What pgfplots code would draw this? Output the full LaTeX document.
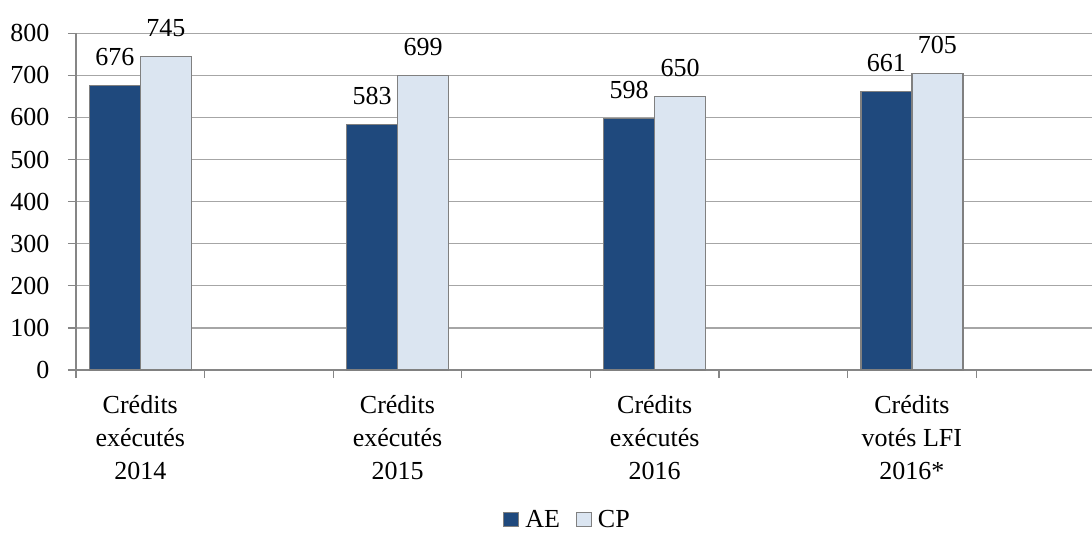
\documentclass[border=0pt]{standalone}
\usepackage{fontspec}
\setmainfont{Liberation Serif}
\usepackage{pgfplots}
\pgfplotsset{compat=1.18}
\definecolor{ae}{HTML}{1F497D}
\definecolor{cp}{HTML}{DBE5F1}
\definecolor{bord}{HTML}{808080}
\definecolor{gridc}{HTML}{A6A6A6}
\definecolor{axc}{HTML}{868686}
\begin{document}
\begin{tikzpicture}
\useasboundingbox (0,0) rectangle (1092pt,536pt);
\begin{axis}[
  at={(76pt,166pt)}, anchor=south west,
  scale only axis, width=1016pt, height=336.7pt,
  xmin=0, xmax=7.9, ymin=0, ymax=800,
  clip=false,
  axis x line=bottom, axis y line=left,
  axis line style={draw=axc, line width=1.2pt, -},
  tick align=outside, major tick length=8pt,
  tick style={draw=axc, line width=1.2pt},
  xtick={0,1,...,7}, xticklabels={},
  extra x ticks={0.5,2.5,4.5,6.5},
  extra x tick labels={{Crédits\\exécutés\\2014},{Crédits\\exécutés\\2015},{Crédits\\exécutés\\2016},{Crédits\\votés LFI\\2016*}},
  extra x tick style={major tick length=0pt},
  xticklabel style={align=center, font=\fontsize{26}{33}\selectfont, anchor=north, yshift=-22pt},
  ytick={0,100,...,800},
  yticklabel style={font=\fontsize{26}{33}\selectfont, anchor=east, xshift=-15pt},
  /pgf/number format/assume math mode=true,
  ymajorgrids, grid style={draw=gridc, line width=1.2pt},
  legend columns=2,
  legend style={draw=none, fill=none, font=\fontsize{26}{33}\selectfont,
    at={(0.4838,-0.4455)}, anchor=center,
    /tikz/every odd column/.append style={column sep=4pt},
    /tikz/every even column/.append style={column sep=14pt}},
]
\addplot[ybar, bar width=51pt, bar shift=-25.5pt, fill=ae, draw=bord, line width=1.2pt,
  nodes near coords,
  every node near coord/.append style={font=\fontsize{26}{33}\selectfont, anchor=south, inner sep=0pt, yshift=19pt, xshift=-25.5pt, text=black},
  legend image code/.code={\draw[fill=ae, draw=bord, line width=1pt] (0pt,-7pt) rectangle (15pt,7pt);}]
  coordinates {(0.5,676) (2.5,583) (4.5,598) (6.5,661)};
\addlegendentry{AE}
\addplot[ybar, bar width=51pt, bar shift=25.5pt, fill=cp, draw=bord, line width=1.2pt,
  nodes near coords,
  every node near coord/.append style={font=\fontsize{26}{33}\selectfont, anchor=south, inner sep=0pt, yshift=19pt, xshift=25.5pt, text=black},
  legend image code/.code={\draw[fill=cp, draw=bord, line width=1pt] (0pt,-7pt) rectangle (15pt,7pt);}]
  coordinates {(0.5,745) (2.5,699) (4.5,650) (6.5,705)};
\addlegendentry{CP}
\end{axis}
\end{tikzpicture}
\end{document}
